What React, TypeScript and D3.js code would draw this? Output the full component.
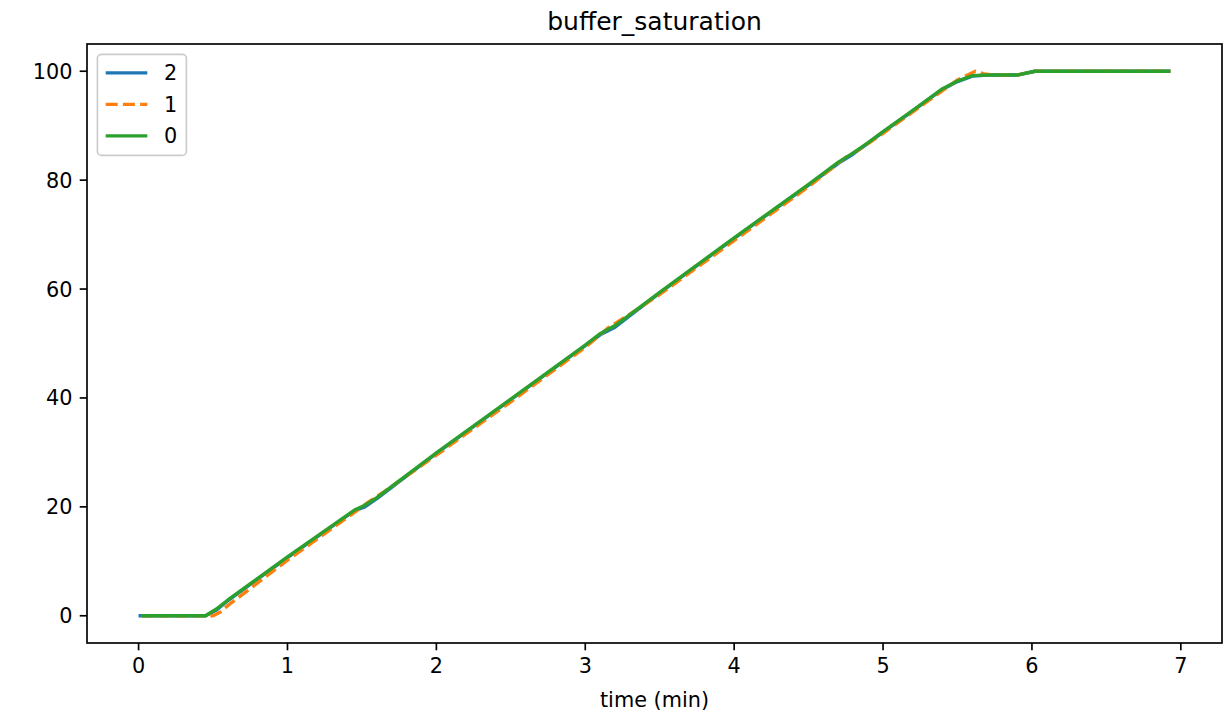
import * as d3 from 'd3'

// time (min) and buffer saturation per run
const t2 = [0, 0.45, 0.52, 0.6, 1.0, 1.45, 1.52, 1.6, 2.0, 2.5, 3.0, 3.1, 3.2, 3.3, 3.5, 4.0, 4.5, 4.7, 4.8, 4.9, 5.0, 5.2, 5.4, 5.5, 5.6, 5.7, 5.9, 6.02, 6.93]
const v2 = [0, 0, 1.0, 2.8, 10.7, 19.3, 20.0, 21.5, 29.8, 39.7, 49.6, 51.6, 53.0, 55.1, 59.3, 69.3, 79.1, 83.1, 84.8, 86.8, 88.8, 92.7, 96.7, 98.1, 99.1, 99.3, 99.3, 100, 100]

const t1 = [0.02, 0.5, 0.55, 0.6, 1.0, 1.45, 1.55, 1.65, 2.0, 2.5, 3.0, 3.15, 3.3, 3.5, 4.0, 4.5, 4.75, 4.85, 5.0, 5.3, 5.5, 5.62, 5.68, 5.75, 5.9, 6.02, 6.93]
const v1 = [0, 0, 0.7, 1.9, 10.2, 19.0, 21.0, 22.8, 29.5, 39.3, 49.3, 52.8, 55.4, 59.0, 68.9, 78.8, 84.2, 85.8, 88.6, 94.5, 98.4, 100, 99.5, 99.3, 99.3, 100, 100]

const t0 = [0.02, 0.45, 0.52, 0.6, 1.0, 1.45, 1.52, 1.6, 2.0, 2.5, 3.0, 3.1, 3.2, 3.3, 3.5, 4.0, 4.5, 4.7, 4.8, 4.9, 5.0, 5.2, 5.4, 5.5, 5.6, 5.7, 5.9, 6.02, 6.93]
const v0 = [0, 0, 1.2, 2.9, 10.8, 19.4, 20.3, 21.7, 29.9, 39.8, 49.7, 51.8, 53.3, 55.3, 59.4, 69.4, 79.2, 83.3, 85.0, 86.9, 88.9, 92.8, 96.8, 98.2, 99.2, 99.3, 99.3, 100, 100]

const xTicks = [0, 1, 2, 3, 4, 5, 6, 7]
const yTicks = [0, 20, 40, 60, 80, 100]

interface Series {
  name: string
  t: number[]
  v: number[]
  color: string
  dash?: string
}

const series: Series[] = [
  { name: '2', t: t2, v: v2, color: '#1f77b4' },
  { name: '1', t: t1, v: v1, color: '#ff7f0e', dash: '12,5.2' },
  { name: '0', t: t0, v: v0, color: '#2ca02c' },
]

const W = 1224
const H = 718
const margin = { top: 44, right: 2, bottom: 75, left: 87 }
const FS = 20.8
const LW = 3.4
const font = 'DejaVu Sans, sans-serif'

export default function App() {
  const iw = W - margin.left - margin.right
  const ih = H - margin.top - margin.bottom

  const x = d3.scaleLinear().domain([-0.3465, 7.2765]).range([0, iw])
  const y = d3.scaleLinear().domain([-5, 105]).range([ih, 0])

  const line = d3.line<[number, number]>()
    .x(d => x(d[0]))
    .y(d => y(d[1]))

  // legend geometry (matplotlib defaults in em)
  const lx = 10.4
  const ly = 10.4
  const rowH = 31.5

  return (
    <svg width={W} height={H} style={{ position: 'absolute', left: 0, top: 0, background: '#fff' }} fontFamily={font}>
      <text x={margin.left + iw / 2} y={30} textAnchor="middle" fontSize={25}>buffer_saturation</text>
      <g transform={`translate(${margin.left},${margin.top})`}>
        <defs>
          <clipPath id="plot">
            <rect x={0} y={0} width={iw} height={ih} />
          </clipPath>
        </defs>

        <g clipPath="url(#plot)">
          {series.map(s => (
            <path
              key={s.name}
              d={line(s.t.map((t, i) => [t, s.v[i]] as [number, number])) ?? ''}
              fill="none"
              stroke={s.color}
              strokeWidth={LW}
              strokeLinejoin="round"
              strokeDasharray={s.dash}
            />
          ))}
        </g>

        {/* x axis */}
        {xTicks.map(t => (
          <g key={t} transform={`translate(${x(t)},${ih})`}>
            <line y2={7.3} stroke="#000" strokeWidth={1.67} />
            <text y={14.6 + FS * 0.76} textAnchor="middle" fontSize={FS}>{t}</text>
          </g>
        ))}
        <text x={iw / 2} y={ih + 64} textAnchor="middle" fontSize={FS}>time (min)</text>

        {/* y axis */}
        {yTicks.map(t => (
          <g key={t} transform={`translate(0,${y(t)})`}>
            <line x2={-7.3} stroke="#000" strokeWidth={1.67} />
            <text x={-14.6} dy="0.36em" textAnchor="end" fontSize={FS}>{t}</text>
          </g>
        ))}

        <rect x={0} y={0} width={iw} height={ih} fill="none" stroke="#000" strokeWidth={1.67} />

        {/* legend */}
        <g transform={`translate(${lx},${ly})`}>
          <rect x={0} y={0} width={89} height={101} rx={4} fill="#fff" fillOpacity={0.8} stroke="#cccccc" strokeWidth={1.67} />
          {series.map((s, i) => (
            <g key={s.name} transform={`translate(0,${18.5 + i * rowH})`}>
              <line x1={8.3} x2={49.9} stroke={s.color} strokeWidth={LW} strokeDasharray={s.dash} />
              <text x={66.5} dy="0.36em" fontSize={FS}>{s.name}</text>
            </g>
          ))}
        </g>
      </g>
    </svg>
  )
}
